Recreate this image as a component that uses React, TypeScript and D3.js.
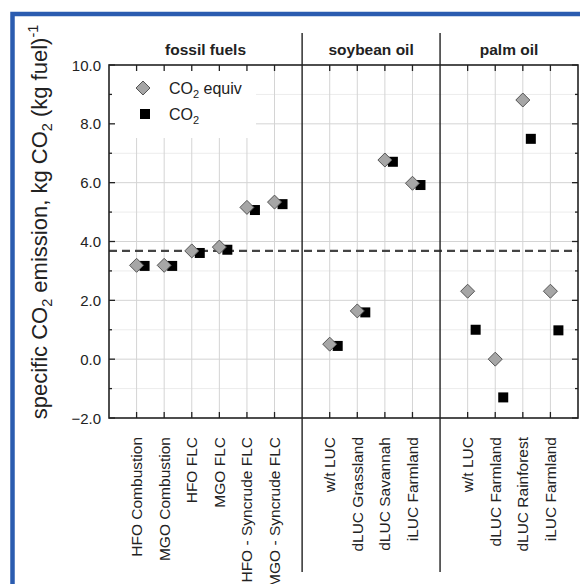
import React, { useEffect, useRef } from 'react';
import * as d3 from 'd3';

const groups = ['fossil fuels', 'soybean oil', 'palm oil'];
const categories = [
    ['HFO Combustion', 'MGO Combustion', 'HFO FLC', 'MGO FLC', 'HFO - Syncrude FLC', 'MGO - Syncrude FLC'],
    ['w/t LUC', 'dLUC Grassland', 'dLUC Savannah', 'iLUC Farmland'],
    ['w/t LUC', 'dLUC Farmland', 'dLUC Rainforest', 'iLUC Farmland'],
];
const co2Equiv = [
    [3.19, 3.19, 3.68, 3.81, 5.16, 5.34],
    [0.51, 1.64, 6.77, 5.98],
    [2.31, 0.0, 8.81, 2.31],
];
const co2 = [
    [3.17, 3.17, 3.61, 3.72, 5.07, 5.27],
    [0.45, 1.59, 6.71, 5.92],
    [1.0, -1.3, 7.49, 0.98],
];
const reference = 3.68;
const yTicks = [-2, 0, 2, 4, 6, 8, 10];
const yMinor = [-1, 1, 3, 5, 7, 9];

const W = 580, H = 584;
const m = { left: 109, right: 578, top: 65, bottom: 418 };
const FONT = 'Liberation Sans, Arial, sans-serif';

const Chart = () => {
    const ref = useRef(null);

    useEffect(() => {
        const svg = d3.select(ref.current);
        svg.selectAll('*').remove();

        // one slot per category plus one per separator
        const points = [];
        const separators = [];
        const groupSpans = [];
        let slot = 1;
        categories.forEach((cats, g) => {
            const start = slot - 1;
            cats.forEach((c, i) => {
                points.push({ slot, label: c, eq: co2Equiv[g][i], co2: co2[g][i] });
                slot++;
            });
            groupSpans.push([start, slot]);
            if (g < categories.length - 1) separators.push(slot);
            slot++;
        });

        const x = d3.scaleLinear().domain([0, slot - 1]).range([m.left, m.right]);
        const y = d3.scaleLinear().domain([-2, 10]).range([m.bottom, m.top]);

        // blue frame
        svg.append('path')
            .attr('d', `M12.5,${H} V14 H${W}`)
            .attr('fill', 'none')
            .attr('stroke', '#2b5cb0')
            .attr('stroke-width', 4.5);

        const grid = svg.append('g');
        grid.selectAll('line.minor').data(yMinor).join('line')
            .attr('x1', m.left).attr('x2', m.right)
            .attr('y1', d => y(d)).attr('y2', d => y(d))
            .attr('stroke', '#ececec');
        grid.selectAll('line.major').data(yTicks.slice(1, -1)).join('line')
            .attr('x1', m.left).attr('x2', m.right)
            .attr('y1', d => y(d)).attr('y2', d => y(d))
            .attr('stroke', '#d4d4d4');
        grid.selectAll('line.v').data(points).join('line')
            .attr('x1', d => x(d.slot)).attr('x2', d => x(d.slot))
            .attr('y1', m.top).attr('y2', m.bottom)
            .attr('stroke', '#d4d4d4');

        // legend box covers grid
        svg.append('rect')
            .attr('x', m.left + 1).attr('y', m.top + 1)
            .attr('width', 146).attr('height', 72)
            .attr('fill', 'white');

        // dashed reference
        svg.append('line')
            .attr('x1', m.left).attr('x2', m.right)
            .attr('y1', y(reference)).attr('y2', y(reference))
            .attr('stroke', '#444')
            .attr('stroke-width', 2.2)
            .attr('stroke-dasharray', '8,5');

        // ticks
        const ticks = svg.append('g').attr('stroke', '#222').attr('stroke-width', 1.3);
        points.forEach(p => {
            ticks.append('line').attr('x1', x(p.slot)).attr('x2', x(p.slot))
                .attr('y1', m.bottom).attr('y2', m.bottom - 6);
            ticks.append('line').attr('x1', x(p.slot)).attr('x2', x(p.slot))
                .attr('y1', m.top).attr('y2', m.top + 6);
        });
        yTicks.forEach(v => {
            ticks.append('line').attr('x1', m.left).attr('x2', m.left + 6).attr('y1', y(v)).attr('y2', y(v));
            ticks.append('line').attr('x1', m.right).attr('x2', m.right - 6).attr('y1', y(v)).attr('y2', y(v));
        });
        yMinor.forEach(v => {
            ticks.append('line').attr('x1', m.left).attr('x2', m.left + 3).attr('y1', y(v)).attr('y2', y(v));
            ticks.append('line').attr('x1', m.right).attr('x2', m.right - 3).attr('y1', y(v)).attr('y2', y(v));
        });

        // frame and separators
        svg.append('rect')
            .attr('x', m.left).attr('y', m.top)
            .attr('width', m.right - m.left).attr('height', m.bottom - m.top)
            .attr('fill', 'none').attr('stroke', '#222').attr('stroke-width', 1.6);
        svg.selectAll('line.sep').data(separators).join('line')
            .attr('x1', d => x(d)).attr('x2', d => x(d))
            .attr('y1', 33).attr('y2', 572)
            .attr('stroke', '#222').attr('stroke-width', 1.4);

        // y tick labels
        svg.selectAll('text.yt').data(yTicks).join('text')
            .attr('x', m.left - 8).attr('y', d => y(d))
            .attr('text-anchor', 'end').attr('dominant-baseline', 'central')
            .attr('font-family', FONT).attr('font-size', 15).attr('fill', '#222')
            .text(d => d3.format('.1f')(d));

        // group headers
        svg.selectAll('text.gh').data(groupSpans).join('text')
            .attr('x', d => (x(d[0]) + x(d[1])) / 2).attr('y', 55)
            .attr('text-anchor', 'middle')
            .attr('font-family', FONT).attr('font-size', 15.5).attr('font-weight', 'bold')
            .attr('fill', '#222')
            .text((d, i) => groups[i]);

        // category labels
        svg.selectAll('text.cat').data(points).join('text')
            .attr('transform', d => `translate(${x(d.slot)},437) rotate(-90)`)
            .attr('text-anchor', 'end').attr('dominant-baseline', 'central')
            .attr('font-family', FONT).attr('font-size', 15.5).attr('fill', '#222')
            .text(d => d.label);

        // markers
        const diamond = (cx, cy, r) => `M${cx},${cy - r}L${cx + r},${cy}L${cx},${cy + r}L${cx - r},${cy}Z`;
        svg.selectAll('rect.sq').data(points).join('rect')
            .attr('x', d => x(d.slot) + 8 - 5).attr('y', d => y(d.co2) - 5)
            .attr('width', 10).attr('height', 10)
            .attr('fill', '#000');
        svg.selectAll('path.dm').data(points).join('path')
            .attr('d', d => diamond(x(d.slot), y(d.eq), 7))
            .attr('fill', '#a6a6a6').attr('stroke', '#555').attr('stroke-width', 1);

        // legend
        svg.append('path').attr('d', diamond(143, 88, 7))
            .attr('fill', '#a6a6a6').attr('stroke', '#555').attr('stroke-width', 1);
        svg.append('rect').attr('x', 140).attr('y', 109).attr('width', 10).attr('height', 10).attr('fill', '#000');
        const leg = (ty, extra) => {
            const t = svg.append('text').attr('x', 169).attr('y', ty)
                .attr('font-family', FONT).attr('font-size', 16).attr('fill', '#222');
            t.append('tspan').text('CO');
            t.append('tspan').attr('font-size', 11).attr('dy', 4).text('2');
            if (extra) t.append('tspan').attr('dy', -4).text(extra);
        };
        leg(94, ' equiv');
        leg(120, null);

        // y axis label
        const yl = svg.append('text')
            .attr('transform', 'translate(47,222) rotate(-90)')
            .attr('text-anchor', 'middle')
            .attr('font-family', FONT).attr('font-size', 22).attr('fill', '#222');
        yl.append('tspan').text('specific CO');
        yl.append('tspan').attr('font-size', 14.5).attr('dy', 5).text('2');
        yl.append('tspan').attr('dy', -5).text(' emission, kg CO');
        yl.append('tspan').attr('font-size', 14.5).attr('dy', 5).text('2');
        yl.append('tspan').attr('dy', -5).text(' (kg fuel)');
        yl.append('tspan').attr('font-size', 14.5).attr('dy', -9).text('-1');
    }, []);

    return <svg ref={ref} width={W} height={H} style={{ position: 'absolute', left: 0, top: 0, background: 'white' }} />;
};

export default function App() {
    return <Chart />;
}
